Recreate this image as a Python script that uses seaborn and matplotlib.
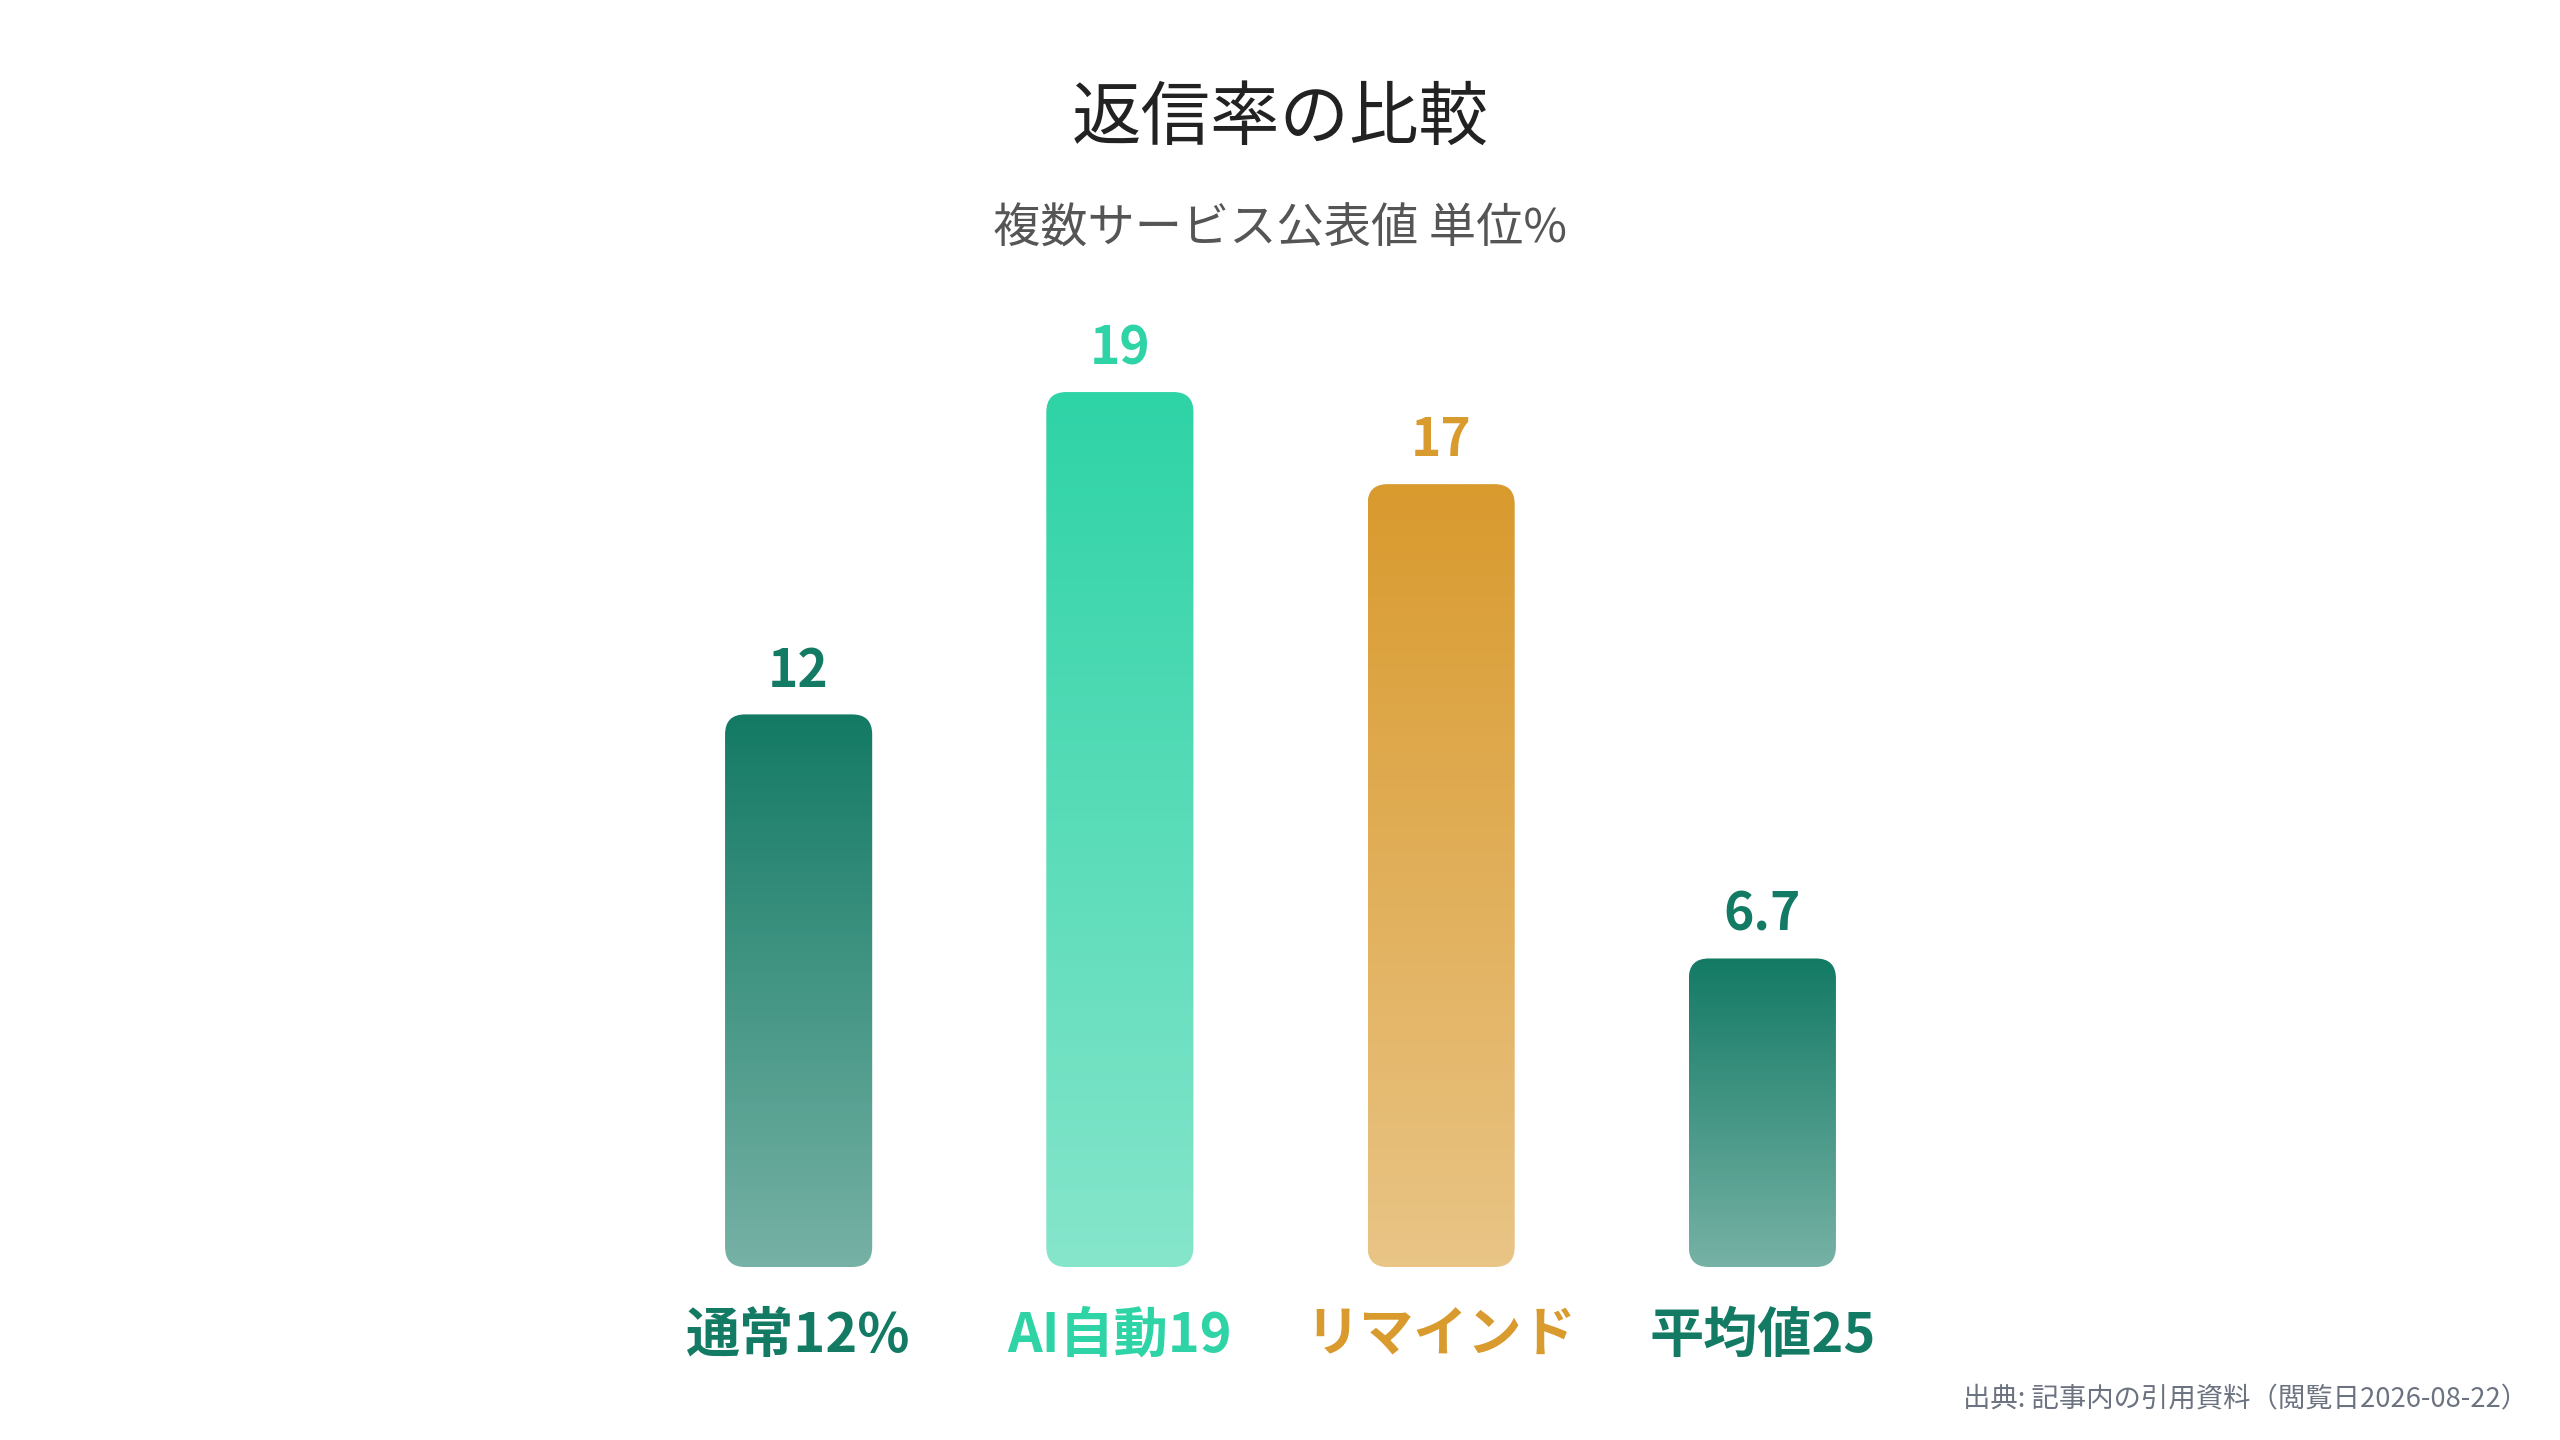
import numpy as np
import matplotlib
matplotlib.use("Agg")
import matplotlib.pyplot as plt
from matplotlib.patches import FancyBboxPatch
from matplotlib.colors import to_rgb
import seaborn as sns

# data
categories = ["通常12%", "AI自動19", "リマインド", "平均値25"]
values = [12, 19, 17, 6.7]
bar_colors = ["#137a64", "#2ed3a6", "#d99a2e", "#137a64"]

TITLE = "返信率の比較"
SUBTITLE = "複数サービス公表値 単位%"
SOURCE = "出典: 記事内の引用資料（閲覧日2026-08-22）"

W, H = 2560, 1440


def gradient_bar(ax, patch, color, radius_px=20, bottom_alpha=0.58):
    x, y = patch.get_x(), patch.get_y()
    w, h = patch.get_width(), patch.get_height()
    patch.set_visible(False)

    # pixel sizes of one data unit, to keep the corners round
    p0 = ax.transData.transform((0, 0))
    p1 = ax.transData.transform((1, 1))
    px_x, px_y = p1[0] - p0[0], p1[1] - p0[1]
    r = radius_px / px_x
    aspect = px_x / px_y

    box = FancyBboxPatch((x, y), w, h,
                         boxstyle=f"round,pad=0,rounding_size={r}",
                         mutation_aspect=aspect,
                         facecolor="none", edgecolor="none")
    ax.add_patch(box)

    rgb = np.array(to_rgb(color))
    a = np.linspace(1.0, bottom_alpha, 256)[:, None]
    img = rgb[None, :] * a + (1 - a)
    img = img[:, None, :]
    im = ax.imshow(img, extent=(x, x + w, y, y + h), origin="upper",
                   aspect="auto", interpolation="bilinear", zorder=2)
    im.set_clip_path(box)


if __name__ == "__main__":
    sns.set_theme(style="white")
    plt.rcParams["font.family"] = ["Noto Sans CJK JP", "DejaVu Sans"]

    fig = plt.figure(figsize=(W / 100, H / 100), dpi=100)
    fig.patch.set_facecolor("white")
    ax = fig.add_axes([638 / W, 1 - 1267 / H, 1285 / W, 921 / H])

    sns.barplot(x=categories, y=values, hue=categories, palette=bar_colors,
                width=0.458, legend=False, ax=ax, saturation=1)
    ax.set_xlim(-0.5, 3.5)
    ax.set_ylim(0, 20)

    for patch, c in zip(ax.patches, bar_colors):
        gradient_bar(ax, patch, c)

    for i, (v, c) in enumerate(zip(values, bar_colors)):
        ax.annotate(f"{v:g}", (i, v), xytext=(0, 20), textcoords="offset points",
                    ha="center", va="baseline", fontsize=37, fontweight="bold",
                    color=c)

    sns.despine(ax=ax, left=True, bottom=True)
    ax.set_yticks([])
    ax.set_ylabel("")
    ax.tick_params(axis="x", length=0, pad=30)
    for lbl, c in zip(ax.get_xticklabels(), bar_colors):
        lbl.set_color(c)
        lbl.set_fontsize(39)
        lbl.set_fontweight("bold")

    fig.text(0.5, 1 - 119 / H, TITLE, ha="center", va="center",
             fontsize=50, color="#222222")
    fig.text(0.5, 1 - 229 / H, SUBTITLE, ha="center", va="center",
             fontsize=34, color="#555555")
    fig.text(2528 / W, 1 - 1400 / H, SOURCE, ha="right", va="center",
             fontsize=19.7, color="#6b7280")

    plt.savefig("out.png", dpi=100, facecolor="white")
